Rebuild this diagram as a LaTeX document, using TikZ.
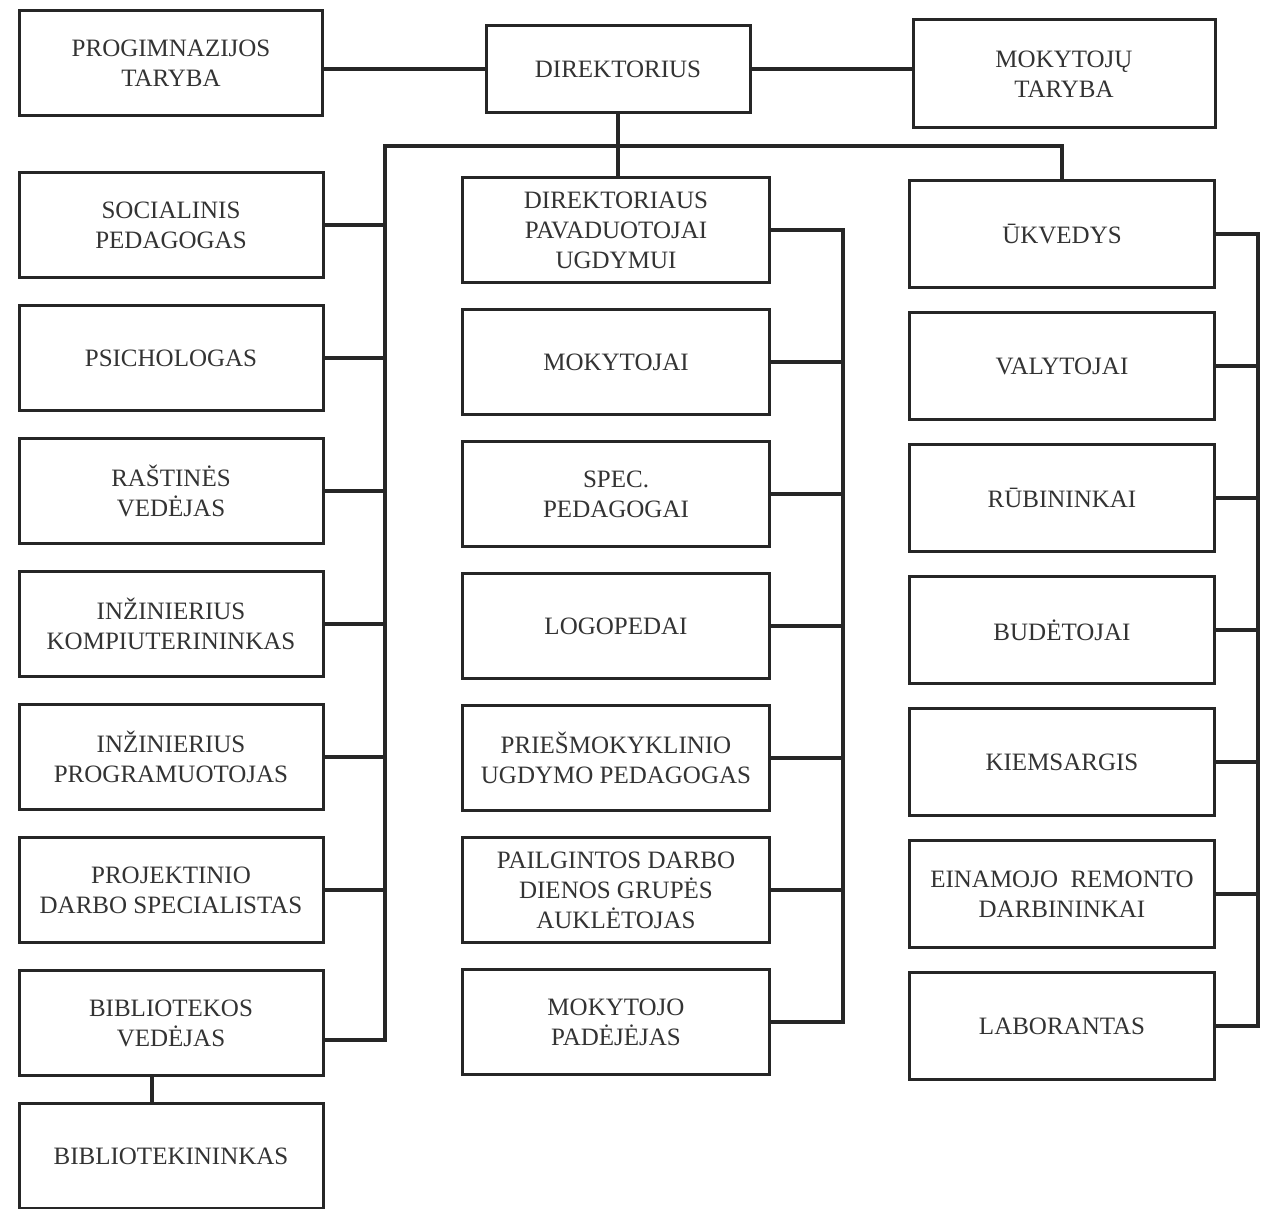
\documentclass[tikz,border=0pt]{standalone}
\usepackage{fontspec}
\setmainfont{Liberation Serif}
\usetikzlibrary{positioning}

\begin{document}
\begin{tikzpicture}[
    x=1pt, y=1pt,
    post/.style={rectangle, draw=black!85, line width=3pt, minimum width=304pt, minimum height=105pt, align=center, text=black!80, font=\fontsize{25}{30}\selectfont},
    link/.style={draw=black!85, line width=4.5pt}
]
\useasboundingbox (0,0) rectangle (1268,-1209);

% top row
\node[post, minimum width=303pt] (prog) at (171,-63) {PROGIMNAZIJOS\\TARYBA};
\node[post, minimum width=264pt, minimum height=87pt] (dir) at (618,-69) {DIREKTORIUS};
\node[post, minimum width=302pt, minimum height=108pt] (mok) at (1064,-74) {MOKYTOJŲ\\TARYBA};

% left column
\node[post] (socped) at (171,-225) {SOCIALINIS\\PEDAGOGAS};
\node[post, below=25pt of socped] (psich) {PSICHOLOGAS};
\node[post, below=25pt of psich] (rast) {RAŠTINĖS\\VEDĖJAS};
\node[post, below=25pt of rast] (inzk) {INŽINIERIUS\\KOMPIUTERININKAS};
\node[post, below=25pt of inzk] (inzp) {INŽINIERIUS\\PROGRAMUOTOJAS};
\node[post, below=25pt of inzp] (proj) {PROJEKTINIO\\DARBO SPECIALISTAS};
\node[post, below=25pt of proj] (bibv) {BIBLIOTEKOS\\VEDĖJAS};
\node[post, below=25pt of bibv] (bibl) {BIBLIOTEKININKAS};

% middle column
\node[post, minimum width=307pt] (pav) at (616,-230) {DIREKTORIAUS\\PAVADUOTOJAI\\UGDYMUI};
\node[post, minimum width=307pt, below=24pt of pav] (mkt) {MOKYTOJAI};
\node[post, minimum width=307pt, below=24pt of mkt] (spec) {SPEC.\\PEDAGOGAI};
\node[post, minimum width=307pt, below=24pt of spec] (logo) {LOGOPEDAI};
\node[post, minimum width=307pt, below=24pt of logo] (pries) {PRIEŠMOKYKLINIO\\UGDYMO PEDAGOGAS};
\node[post, minimum width=307pt, below=24pt of pries] (pail) {PAILGINTOS DARBO\\DIENOS GRUPĖS\\AUKLĖTOJAS};
\node[post, minimum width=307pt, below=24pt of pail] (mpad) {MOKYTOJO\\PADĖJĖJAS};

% right column
\node[post, minimum width=305pt, minimum height=107pt] (ukv) at (1062,-234) {ŪKVEDYS};
\node[post, minimum width=305pt, minimum height=107pt, below=22pt of ukv] (valy) {VALYTOJAI};
\node[post, minimum width=305pt, minimum height=107pt, below=22pt of valy] (rub) {RŪBININKAI};
\node[post, minimum width=305pt, minimum height=107pt, below=22pt of rub] (bud) {BUDĖTOJAI};
\node[post, minimum width=305pt, minimum height=107pt, below=22pt of bud] (kiem) {KIEMSARGIS};
\node[post, minimum width=305pt, minimum height=107pt, below=22pt of kiem] (rem) {EINAMOJO\ \ REMONTO\\DARBININKAI};
\node[post, minimum width=305pt, minimum height=107pt, below=22pt of rem] (lab) {LABORANTAS};

% spines
\coordinate (lspine) at (385,-146);
\coordinate (mspine) at (843,-230);
\coordinate (rspine) at (1258,-234);

% connectors
\draw[link] (prog.east |- dir.west) -- (dir.west);
\draw[link] (dir.east) -- (dir.east -| mok.west);
\draw[link] (dir.south) -- (dir.south |- pav.north);
\draw[link] (ukv.north) |- (lspine) |- ([yshift=-17pt]bibv.east);
\foreach \n in {socped,psich,rast,inzk,inzp,proj}
    \draw[link] (\n.east) -- (\n.east -| lspine);
\draw[link] ([xshift=-19pt]bibv.south) -- ([xshift=-19pt]bibl.north);

\draw[link] (pav.east) -| (mspine |- mpad.east) -- (mpad.east);
\foreach \n in {mkt,spec,logo,pries,pail}
    \draw[link] (\n.east) -- (\n.east -| mspine);

\draw[link] (ukv.east) -| (rspine |- lab.east) -- (lab.east);
\foreach \n in {valy,rub,bud,kiem,rem}
    \draw[link] (\n.east) -- (\n.east -| rspine);

\end{tikzpicture}
\end{document}
